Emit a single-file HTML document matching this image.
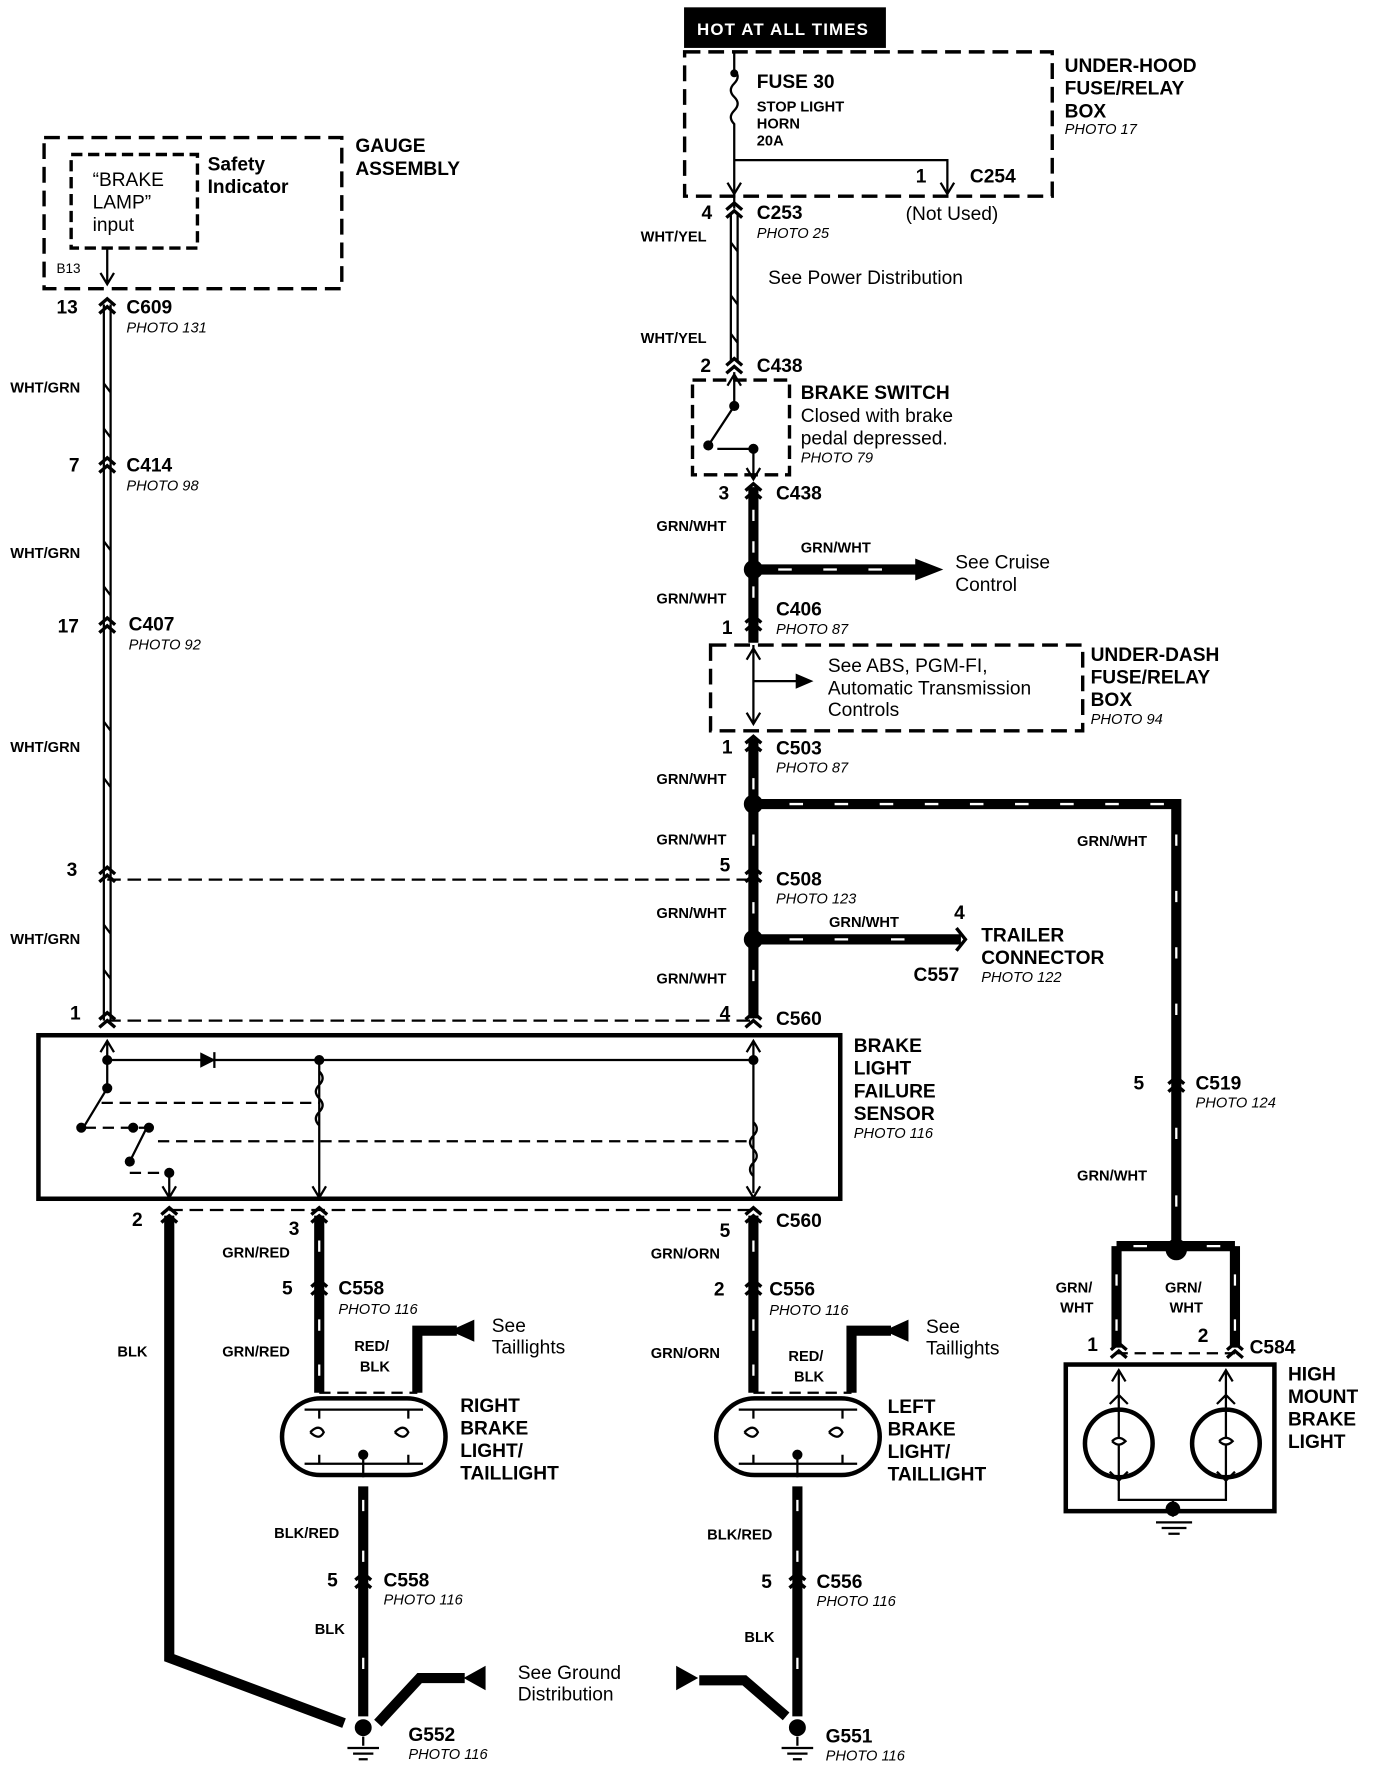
<!DOCTYPE html>
<html><head><meta charset="utf-8"><style>
html,body{margin:0;padding:0;background:#fff;}
svg{display:block}
text{font-family:"Liberation Sans",Arial,sans-serif;fill:#000}
.b{font-weight:bold;font-size:17px}
.w{font-weight:bold;font-size:13px}
.p{font-style:italic;font-size:13px}
.n{font-size:17px}
</style></head><body>
<svg width="1376" height="1766" viewBox="0 0 1220 1566" xmlns="http://www.w3.org/2000/svg">
<defs>
<g id="cn"><path d="M-7,-1 L0,-7 L7,-1 M-7,6 L0,0 L7,6" fill="none" stroke="#000" stroke-width="3"/></g>
</defs>
<g fill="none" stroke="#000">
<rect x="607" y="7" width="178" height="35" fill="#000"/>
<rect x="607" y="46" width="326" height="128" stroke-width="3" stroke-dasharray="14,7"/>
<path d="M651,46 V62 M651,62 q6,6 0,12 q-6,6 0,12 q6,6 0,12 q-6,6 0,12 V185" stroke-width="2"/>
<circle cx="651" cy="65" r="3" fill="#000"/>
<path d="M651,142 H840 V170 M834,162 L840,172 L846,162 M645,162 L651,172 L657,162" stroke-width="2"/>
<path d="M648,190 V320 M654,190 V320" stroke-width="2"/>
<path d="M648,215 l6,8 M648,262 l6,8 M648,296 l6,8" stroke-width="2"/>
<rect x="614" y="337" width="86" height="84" stroke-width="3" stroke-dasharray="12,6"/>
<path d="M651,330 V360 L628,395 M636,398 H668 M668,398 V425 M662,415 L668,425 L674,415 M645,342 L651,332 L657,342" stroke-width="2"/>
<circle cx="651" cy="360" r="4" fill="#000"/><circle cx="628" cy="395" r="4" fill="#000"/><circle cx="668" cy="398" r="4" fill="#000"/>
<path d="M668,432 V570 M668,655 V903 M668,1078 V1235" stroke-width="9"/>
<path d="M668,452 v10 M668,480 v10 M668,520 v10 M668,690 v10 M668,740 v10 M668,800 v10 M668,860 v10" stroke="#fff" stroke-width="2"/>
<path d="M668,505 H815" stroke-width="9"/>
<polygon points="812,496 835,505 812,514" fill="#000"/>
<path d="M690,505 h12 M730,505 h12 M770,505 h12" stroke="#fff" stroke-width="2"/>
<circle cx="668" cy="505" r="8" fill="#000"/>
<rect x="630" y="572" width="330" height="76" stroke-width="3" stroke-dasharray="14,7"/>
<path d="M668,572 V640 M668,604 H710 M662,632 L668,642 L674,632 M662,585 L668,575 L674,585" stroke-width="2"/>
<polygon points="706,598 720,604 706,610" fill="#000"/>
<path d="M668,713 H1043 V1105" stroke-width="9"/>
<path d="M700,713 h12 M740,713 h12 M780,713 h12 M820,713 h12 M860,713 h12 M900,713 h12 M940,713 h12 M980,713 h12 M1020,713 h12 M1043,740 v10 M1043,790 v10 M1043,840 v10 M1043,890 v10 M1043,1000 v10 M1043,1060 v10" stroke="#fff" stroke-width="2"/>
<circle cx="668" cy="713" r="8" fill="#000"/>
<path d="M668,833 H852" stroke-width="9"/>
<path d="M700,833 h12 M740,833 h12 M790,833 h12" stroke="#fff" stroke-width="2"/>
<circle cx="668" cy="833" r="8" fill="#000"/>
<path d="M848,823 L856,833 L848,843" stroke-width="3"/>
<path d="M95,780 H668 M95,905 H668 M150,1073 H668" stroke-width="2" stroke-dasharray="12,6"/>
<rect x="39" y="122" width="264" height="134" stroke-width="3" stroke-dasharray="14,7"/>
<rect x="63" y="137" width="112" height="83" stroke-width="3" stroke-dasharray="10,5"/>
<path d="M95,220 V250 M89,242 L95,252 L101,242" stroke-width="2"/>
<path d="M92,270 V905 M98,270 V905" stroke-width="2"/>
<path d="M92,340 l6,8 M92,380 l6,8 M92,480 l6,8 M92,520 l6,8 M92,640 l6,8 M92,690 l6,8 M92,820 l6,8 M92,860 l6,8" stroke-width="2"/>
<rect x="34" y="918" width="711" height="145" stroke-width="4"/>
<path d="M95,925 V965 L75,998 M95,940 H668 M668,925 V1058 M283,940 V1060 M283,950 q6,6 0,12 q-6,6 0,12 q6,6 0,12 q-6,6 0,12 M668,995 q6,6 0,12 q-6,6 0,12 q6,6 0,12 q-6,6 0,12 M130,1000 L115,1030 M150,1040 V1060 M89,933 L95,923 L101,933 M662,933 L668,923 L674,933 M277,1052 L283,1062 L289,1052 M662,1052 L668,1062 L674,1052 M144,1052 L150,1062 L156,1052" stroke-width="2"/>
<polygon points="178,934 190,940 178,946" fill="#000"/><path d="M190,933 V947" stroke-width="2"/>
<path d="M90,978 H283 M140,1012 H668 M75,1000 H130 M115,1040 H150" stroke-width="2" stroke-dasharray="10,6"/>
<circle cx="95" cy="940" r="4" fill="#000"/><circle cx="95" cy="965" r="4" fill="#000"/><circle cx="283" cy="940" r="4" fill="#000"/><circle cx="668" cy="940" r="4" fill="#000"/>
<circle cx="72" cy="1000" r="4" fill="#000"/><circle cx="118" cy="1000" r="4" fill="#000"/><circle cx="132" cy="1000" r="4" fill="#000"/><circle cx="115" cy="1030" r="4" fill="#000"/><circle cx="150" cy="1040" r="4" fill="#000"/>
<path d="M150,1078 V1470 L305,1528 M283,1078 V1235 M322,1318 V1522 M707,1318 V1522" stroke-width="9"/>
<path d="M283,1100 v10 M283,1170 v10 M283,1210 v10 M322,1330 v10 M322,1375 v10 M322,1470 v10 M668,1100 v10 M668,1170 v10 M668,1210 v10 M707,1330 v10 M707,1375 v10 M707,1470 v10" stroke="#fff" stroke-width="2"/>
<path d="M370,1235 V1180 H405 M755,1235 V1180 H790" stroke-width="9"/>
<polygon points="400,1171 420,1180 400,1189" fill="#000" transform="rotate(180 410 1180)"/>
<polygon points="785,1171 805,1180 785,1189" fill="#000" transform="rotate(180 795 1180)"/>
<path d="M283,1235 H370 M668,1235 H755" stroke-width="2" stroke-dasharray="10,6"/>
<path d="M335,1528 L372,1488 H412 M697,1522 L660,1490 H620" stroke-width="9"/>
<polygon points="430,1478 412,1488 430,1498" fill="#000"/>
<polygon points="600,1478 618,1488 600,1498" fill="#000"/>
<rect x="250" y="1240" width="145" height="68" rx="34" stroke-width="4"/>
<rect x="635" y="1240" width="145" height="68" rx="34" stroke-width="4"/>
<path d="M270,1250 H375 M270,1298 H375 M283,1250 v8 M283,1290 v8 M362,1250 v8 M362,1290 v8 M322,1290 V1310 M655,1250 H760 M655,1298 H760 M668,1250 v8 M668,1290 v8 M747,1250 v8 M747,1290 v8 M707,1290 V1310" stroke-width="2"/>
<circle cx="322" cy="1290" r="4" fill="#000"/><circle cx="707" cy="1290" r="4" fill="#000"/>
<path d="M275,1270 q8,-8 12,0 q-4,8 -12,0 M350,1270 q8,-8 12,0 q-4,8 -12,0 M660,1270 q8,-8 12,0 q-4,8 -12,0 M735,1270 q8,-8 12,0 q-4,8 -12,0" stroke-width="2"/>
<path d="M990,1105 H1095 M990,1105 V1195 M1095,1105 V1195" stroke-width="9"/>
<path d="M1005,1105 h12 M1070,1105 h12 M990,1130 v10 M990,1170 v10 M1095,1130 v10 M1095,1170 v10" stroke="#fff" stroke-width="2"/>
<circle cx="1043" cy="1108" r="9" fill="#000"/>
<path d="M990,1200 H1095" stroke-width="2" stroke-dasharray="10,6"/>
<rect x="945" y="1210" width="185" height="130" stroke-width="4"/>
<circle cx="992" cy="1280" r="30" stroke-width="4"/><circle cx="1087" cy="1280" r="30" stroke-width="4"/>
<path d="M992,1215 V1330 H1087 V1215 M1040,1330 V1345 M1025,1350 H1057 M1030,1355 H1052 M1036,1360 H1046 M986,1225 L992,1215 L998,1225 M1081,1225 L1087,1215 L1093,1225 M984,1245 L992,1237 L1000,1245 M1079,1245 L1087,1237 L1095,1245 M984,1305 L992,1313 L1000,1305 M1079,1305 L1087,1313 L1095,1305" stroke-width="2"/>
<path d="M986,1278 q6,-6 12,0 q-6,6 -12,0 M1081,1278 q6,-6 12,0 q-6,6 -12,0" stroke-width="2" fill="#fff"/>
<circle cx="1040" cy="1338" r="6" fill="#000"/>
<path d="M322,1540 V1548 M308,1550 H336 M313,1555 H331 M318,1560 H326 M707,1540 V1548 M693,1550 H721 M698,1555 H716 M703,1560 H711" stroke-width="2"/>
<circle cx="322" cy="1532" r="7" fill="#000"/><circle cx="707" cy="1532" r="7" fill="#000"/>
</g>
<use href="#cn" x="95" y="272"/><use href="#cn" x="95" y="413"/><use href="#cn" x="95" y="555"/><use href="#cn" x="95" y="776"/><use href="#cn" x="95" y="905"/>
<use href="#cn" x="651" y="187"/><use href="#cn" x="651" y="325"/><use href="#cn" x="668" y="436"/><use href="#cn" x="668" y="553"/><use href="#cn" x="668" y="660"/><use href="#cn" x="668" y="776"/><use href="#cn" x="668" y="905"/>
<use href="#cn" x="150" y="1078"/><use href="#cn" x="283" y="1078"/><use href="#cn" x="668" y="1078"/><use href="#cn" x="283" y="1142"/><use href="#cn" x="668" y="1142"/><use href="#cn" x="322" y="1402"/><use href="#cn" x="707" y="1402"/><use href="#cn" x="1043" y="962"/><use href="#cn" x="992" y="1198"/><use href="#cn" x="1095" y="1198"/>
<text x="618" y="31" style="fill:#fff;font-size:15px;font-weight:bold;letter-spacing:1px">HOT AT ALL TIMES</text>
<text class="b" x="944" y="64">UNDER-HOOD</text><text class="b" x="944" y="84">FUSE/RELAY</text><text class="b" x="944" y="104">BOX</text><text class="p" x="944" y="119">PHOTO 17</text>
<text class="b" x="671" y="78">FUSE 30</text><text class="w" x="671" y="99">STOP LIGHT</text><text class="w" x="671" y="114">HORN</text><text class="w" x="671" y="129">20A</text>
<text class="b" x="812" y="162">1</text><text class="b" x="860" y="162">C254</text><text class="n" x="803" y="195">(Not Used)</text>
<text class="b" x="622" y="194">4</text><text class="b" x="671" y="194">C253</text><text class="p" x="671" y="211">PHOTO 25</text>
<text class="w" x="568" y="214">WHT/YEL</text><text class="w" x="568" y="304">WHT/YEL</text><text class="n" x="681" y="252">See Power Distribution</text>
<text class="b" x="621" y="330">2</text><text class="b" x="671" y="330">C438</text>
<text class="b" x="710" y="354">BRAKE SWITCH</text><text class="n" x="710" y="374">Closed with brake</text><text class="n" x="710" y="394">pedal depressed.</text><text class="p" x="710" y="410">PHOTO 79</text>
<text class="b" x="637" y="443">3</text><text class="b" x="688" y="443">C438</text>
<text class="w" x="582" y="471">GRN/WHT</text><text class="w" x="710" y="490">GRN/WHT</text><text class="n" x="847" y="504">See Cruise</text><text class="n" x="847" y="524">Control</text>
<text class="w" x="582" y="535">GRN/WHT</text><text class="b" x="640" y="562">1</text><text class="b" x="688" y="546">C406</text><text class="p" x="688" y="562">PHOTO 87</text>
<text class="n" x="734" y="596">See ABS, PGM-FI,</text><text class="n" x="734" y="616">Automatic Transmission</text><text class="n" x="734" y="635">Controls</text>
<text class="b" x="967" y="586">UNDER-DASH</text><text class="b" x="967" y="606">FUSE/RELAY</text><text class="b" x="967" y="626">BOX</text><text class="p" x="967" y="642">PHOTO 94</text>
<text class="b" x="640" y="668">1</text><text class="b" x="688" y="669">C503</text><text class="p" x="688" y="685">PHOTO 87</text>
<text class="w" x="582" y="695">GRN/WHT</text><text class="w" x="582" y="749">GRN/WHT</text><text class="w" x="955" y="750">GRN/WHT</text>
<text class="b" x="638" y="773">5</text><text class="b" x="688" y="785">C508</text><text class="p" x="688" y="801">PHOTO 123</text>
<text class="w" x="582" y="814">GRN/WHT</text><text class="w" x="735" y="822">GRN/WHT</text><text class="b" x="846" y="815">4</text>
<text class="b" x="870" y="835">TRAILER</text><text class="b" x="870" y="855">CONNECTOR</text><text class="b" x="810" y="870">C557</text><text class="p" x="870" y="871">PHOTO 122</text>
<text class="w" x="582" y="872">GRN/WHT</text><text class="b" x="638" y="904">4</text><text class="b" x="688" y="909">C560</text>
<text class="b" x="315" y="135">GAUGE</text><text class="b" x="315" y="155">ASSEMBLY</text>
<text class="n" x="82" y="165">“BRAKE</text><text class="n" x="82" y="185">LAMP”</text><text class="n" x="82" y="205">input</text>
<text class="b" x="184" y="151">Safety</text><text class="b" x="184" y="171">Indicator</text><text style="font-size:12px" x="50" y="242">B13</text>
<text class="b" x="50" y="278">13</text><text class="b" x="112" y="278">C609</text><text class="p" x="112" y="295">PHOTO 131</text>
<text class="w" x="9" y="348">WHT/GRN</text>
<text class="b" x="61" y="418">7</text><text class="b" x="112" y="418">C414</text><text class="p" x="112" y="435">PHOTO 98</text>
<text class="w" x="9" y="495">WHT/GRN</text>
<text class="b" x="51" y="561">17</text><text class="b" x="114" y="559">C407</text><text class="p" x="114" y="576">PHOTO 92</text>
<text class="w" x="9" y="667">WHT/GRN</text><text class="b" x="59" y="777">3</text><text class="w" x="9" y="837">WHT/GRN</text><text class="b" x="62" y="904">1</text>
<text class="b" x="757" y="933">BRAKE</text><text class="b" x="757" y="953">LIGHT</text><text class="b" x="757" y="973">FAILURE</text><text class="b" x="757" y="993">SENSOR</text><text class="p" x="757" y="1009">PHOTO 116</text>
<text class="b" x="1005" y="966">5</text><text class="b" x="1060" y="966">C519</text><text class="p" x="1060" y="982">PHOTO 124</text><text class="w" x="955" y="1047">GRN/WHT</text>
<text class="b" x="117" y="1087">2</text><text class="b" x="256" y="1095">3</text><text class="b" x="638" y="1097">5</text><text class="b" x="688" y="1088">C560</text>
<text class="w" x="197" y="1115">GRN/RED</text><text class="w" x="577" y="1116">GRN/ORN</text>
<text class="b" x="250" y="1148">5</text><text class="b" x="300" y="1148">C558</text><text class="p" x="300" y="1165">PHOTO 116</text>
<text class="b" x="633" y="1149">2</text><text class="b" x="682" y="1149">C556</text><text class="p" x="682" y="1166">PHOTO 116</text>
<text class="w" x="104" y="1203">BLK</text><text class="w" x="197" y="1203">GRN/RED</text><text class="w" x="577" y="1204">GRN/ORN</text>
<text class="w" x="314" y="1198">RED/</text><text class="w" x="319" y="1216">BLK</text><text class="w" x="699" y="1207">RED/</text><text class="w" x="704" y="1225">BLK</text>
<text class="n" x="436" y="1181">See</text><text class="n" x="436" y="1200">Taillights</text><text class="n" x="821" y="1182">See</text><text class="n" x="821" y="1201">Taillights</text>
<text class="b" x="408" y="1252">RIGHT</text><text class="b" x="408" y="1272">BRAKE</text><text class="b" x="408" y="1292">LIGHT/</text><text class="b" x="408" y="1312">TAILLIGHT</text>
<text class="b" x="787" y="1253">LEFT</text><text class="b" x="787" y="1273">BRAKE</text><text class="b" x="787" y="1293">LIGHT/</text><text class="b" x="787" y="1313">TAILLIGHT</text>
<text class="w" x="936" y="1146">GRN/</text><text class="w" x="940" y="1164">WHT</text><text class="w" x="1033" y="1146">GRN/</text><text class="w" x="1037" y="1164">WHT</text>
<text class="b" x="964" y="1198">1</text><text class="b" x="1062" y="1190">2</text><text class="b" x="1108" y="1200">C584</text>
<text class="b" x="1142" y="1224">HIGH</text><text class="b" x="1142" y="1244">MOUNT</text><text class="b" x="1142" y="1264">BRAKE</text><text class="b" x="1142" y="1284">LIGHT</text>
<text class="w" x="243" y="1364">BLK/RED</text><text class="w" x="627" y="1365">BLK/RED</text>
<text class="b" x="290" y="1407">5</text><text class="b" x="340" y="1407">C558</text><text class="p" x="340" y="1423">PHOTO 116</text>
<text class="b" x="675" y="1408">5</text><text class="b" x="724" y="1408">C556</text><text class="p" x="724" y="1424">PHOTO 116</text>
<text class="w" x="279" y="1449">BLK</text><text class="w" x="660" y="1456">BLK</text>
<text class="n" x="459" y="1489">See Ground</text><text class="n" x="459" y="1508">Distribution</text>
<text class="b" x="362" y="1544">G552</text><text class="p" x="362" y="1560">PHOTO 116</text>
<text class="b" x="732" y="1545">G551</text><text class="p" x="732" y="1561">PHOTO 116</text>
</svg>
</body></html>
